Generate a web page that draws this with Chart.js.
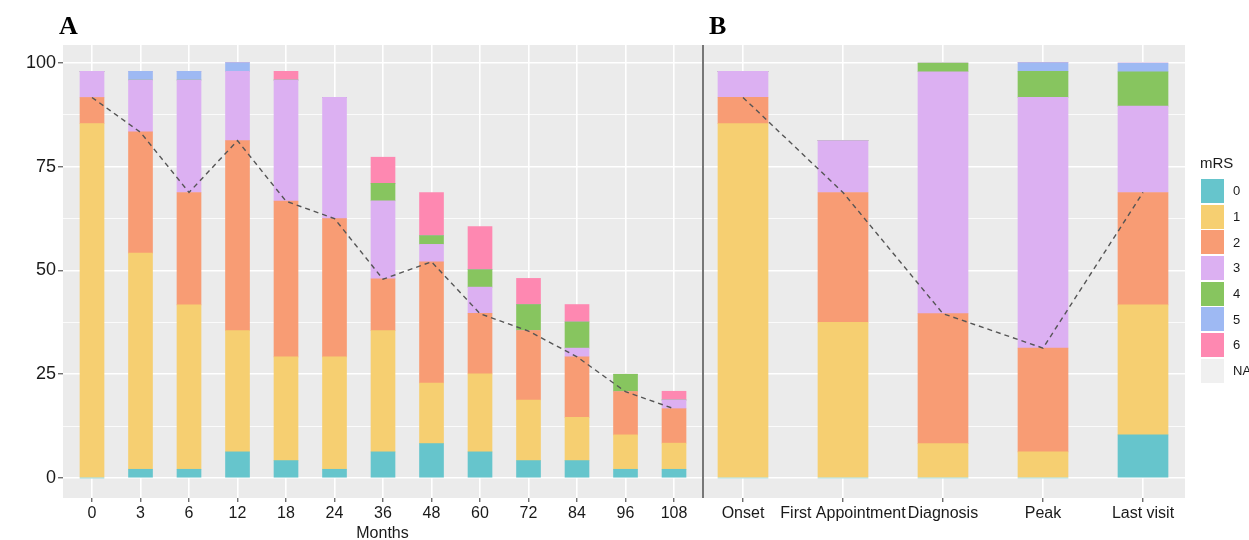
<!DOCTYPE html>
<html>
<head>
<meta charset="utf-8">
<script src="https://cdn.jsdelivr.net/npm/chart.js@4.4.0/dist/chart.umd.min.js"></script>
<style>
  body { margin: 0; width: 1249px; height: 540px; overflow: hidden; background: #fff; position: relative; font-family: "Liberation Sans", Arial, sans-serif; }
  #chartA { position: absolute; left: 0; top: 0; }
  #chartB { position: absolute; left: 704px; top: 0; }
  #divider { position: absolute; left: 702px; top: 45px; width: 2px; height: 453px; background: #777; }
  .tag { position: absolute; top: 13px; font-family: "Liberation Serif", "Times New Roman", serif; font-weight: bold; font-size: 26px; line-height: 26px; color: #000; }
  #legend { position: absolute; left: 1200px; top: 155px; color: #1a1a1a; }
  #legend .title { font-size: 15px; line-height: 15px; height: 23px; }
  #legend .row { height: 25.7px; display: flex; align-items: center; white-space: nowrap; }
  #legend .box { width: 23px; height: 24px; margin-left: 1px; margin-right: 9px; }
  #legend .lab { font-size: 13px; }
</style>
</head>
<body>
<canvas id="chartA" width="704" height="540"></canvas>
<canvas id="chartB" width="545" height="540"></canvas>
<div id="divider"></div>
<div class="tag" style="left:59px">A</div>
<div class="tag" style="left:709px">B</div>
<div id="legend"></div>

<script>
// mRS categories and colours
const mrsLabels = ['0', '1', '2', '3', '4', '5', '6'];
const mrsColors = ['#66C5CC', '#F6CF71', '#F89C74', '#DCB0F2', '#87C55F', '#9EB9F3', '#FE88B1'];
const naColor = '#F0F0F0';

// panel A: % of patients by follow-up month
const months = ['0', '3', '6', '12', '18', '24', '36', '48', '60', '72', '84', '96', '108'];
const monthMrs0 = [0, 2.1, 2.1, 6.3, 4.2, 2.1, 6.3, 8.3, 6.3, 4.2, 4.2, 2.1, 2.1];
const monthMrs1 = [85.4, 52.1, 39.6, 29.2, 25.0, 27.1, 29.2, 14.6, 18.8, 14.6, 10.4, 8.3, 6.3];
const monthMrs2 = [6.3, 29.2, 27.1, 45.8, 37.5, 33.3, 12.5, 29.2, 14.6, 16.7, 14.6, 10.4, 8.3];
const monthMrs3 = [6.3, 12.5, 27.1, 16.7, 29.2, 29.2, 18.8, 4.2, 6.3, 0, 2.1, 0, 2.1];
const monthMrs4 = [0, 0, 0, 0, 0, 0, 4.2, 2.1, 4.2, 6.3, 6.3, 4.2, 0];
const monthMrs5 = [0, 2.1, 2.1, 2.1, 0, 0, 0, 0, 0, 0, 0, 0, 0];
const monthMrs6 = [0, 0, 0, 0, 2.1, 0, 6.3, 10.4, 10.4, 6.3, 4.2, 0, 2.1];
const monthLine = [91.7, 83.3, 68.8, 81.3, 66.7, 62.5, 47.9, 52.1, 39.6, 35.4, 29.2, 20.8, 16.7];

// panel B: % of patients by disease stage
const stages = ['Onset', 'First Appointment', 'Diagnosis', 'Peak', 'Last visit'];
const stageMrs0 = [0, 0, 0, 0, 10.4];
const stageMrs1 = [85.4, 37.5, 8.3, 6.3, 31.3];
const stageMrs2 = [6.3, 31.3, 31.3, 25.0, 27.1];
const stageMrs3 = [6.3, 12.5, 58.3, 60.4, 20.8];
const stageMrs4 = [0, 0, 2.1, 6.3, 8.3];
const stageMrs5 = [0, 0, 0, 2.1, 2.1];
const stageMrs6 = [0, 0, 0, 0, 0];
const stageLine = [91.7, 68.8, 39.6, 31.3, 68.8];

const yTicks = [0, 12.5, 25, 37.5, 50, 62.5, 75, 87.5, 100];
const yLabels = [0, 25, 50, 75, 100];

const font = '"Liberation Sans", Arial, sans-serif';
const textColor = '#1a1a1a';

const panelBg = {
  id: 'panelBg',
  beforeDraw(chart) {
    const { ctx, chartArea: a } = chart;
    ctx.save();
    ctx.fillStyle = '#EBEBEB';
    ctx.fillRect(a.left, a.top, a.right - a.left, a.bottom - a.top);
    ctx.restore();
  }
};

function xy(values) {
  return values.map((v, i) => ({ x: i, y: v }));
}

function makeChart(id, cats, series, line, opt) {
  const datasets = series.map((vals, k) => ({
    type: 'bar',
    label: mrsLabels[k],
    data: xy(vals),
    backgroundColor: mrsColors[k],
    borderWidth: 0,
    barThickness: opt.barWidth,
    order: 1
  }));
  datasets.push({
    type: 'line',
    label: 'mRS 0-2',
    data: xy(line),
    borderColor: '#555',
    borderWidth: 1.4,
    borderDash: [5, 4],
    pointRadius: 0,
    fill: false,
    stack: 'line',
    order: 0
  });

  return new Chart(document.getElementById(id), {
    data: { datasets: datasets },
    plugins: [panelBg],
    options: {
      responsive: false,
      animation: false,
      devicePixelRatio: 1,
      layout: { padding: { left: 0, right: opt.padRight, top: 45, bottom: 0 } },
      plugins: { legend: { display: false }, tooltip: { enabled: false } },
      scales: {
        x: {
          type: 'linear',
          min: opt.xMin,
          max: opt.xMax,
          stacked: true,
          offset: false,
          afterBuildTicks: s => { s.ticks = cats.map((c, i) => ({ value: i })); },
          afterFit: s => { s.height = 42; },
          ticks: {
            callback: v => cats[v],
            font: { family: font, size: 16 },
            color: textColor,
            padding: 2,
            maxRotation: 0,
            autoSkip: false
          },
          grid: { offset: false, color: '#fff', lineWidth: 1.6, tickColor: '#333', tickLength: 4, tickWidth: 1 },
          border: { display: false },
          title: {
            display: !!opt.xTitle,
            text: opt.xTitle || '',
            font: { family: font, size: 16 },
            color: textColor,
            padding: { top: 0, bottom: -3 }
          }
        },
        y: {
          min: -4.82,
          max: 104.34,
          stacked: true,
          afterBuildTicks: s => { s.ticks = yTicks.map(v => ({ value: v })); },
          afterFit: s => { s.width = opt.showY ? 63 : 0; },
          ticks: {
            display: opt.showY,
            callback: v => (yLabels.includes(v) ? String(v) : ''),
            font: { family: font, size: 18 },
            color: textColor,
            padding: 2
          },
          grid: {
            color: '#fff',
            lineWidth: c => (c.tick && c.tick.value % 25 === 0 ? 1.6 : 0.8),
            tickColor: c => (opt.showY && c.tick && c.tick.value % 25 === 0 ? '#333' : 'rgba(0,0,0,0)'),
            tickLength: opt.showY ? 5 : 0,
            drawTicks: opt.showY,
            tickWidth: 1
          },
          border: { display: false }
        }
      }
    }
  });
}

makeChart('chartA', months,
  [monthMrs0, monthMrs1, monthMrs2, monthMrs3, monthMrs4, monthMrs5, monthMrs6],
  monthLine,
  { barWidth: 24, xMin: -0.598, xMax: 12.577, padRight: 2, showY: true, xTitle: 'Months' });

makeChart('chartB', stages,
  [stageMrs0, stageMrs1, stageMrs2, stageMrs3, stageMrs4, stageMrs5, stageMrs6],
  stageLine,
  { barWidth: 50, xMin: -0.39, xMax: 4.42, padRight: 64, showY: false, xTitle: '' });

// legend
const legend = document.getElementById('legend');
let html = '<div class="title">mRS</div>';
mrsLabels.concat(['NA']).forEach((lab, i) => {
  const col = i < mrsColors.length ? mrsColors[i] : naColor;
  html += '<div class="row"><div class="box" style="background:' + col + '"></div><span class="lab">' + lab + '</span></div>';
});
legend.innerHTML = html;
</script>
</body>
</html>
